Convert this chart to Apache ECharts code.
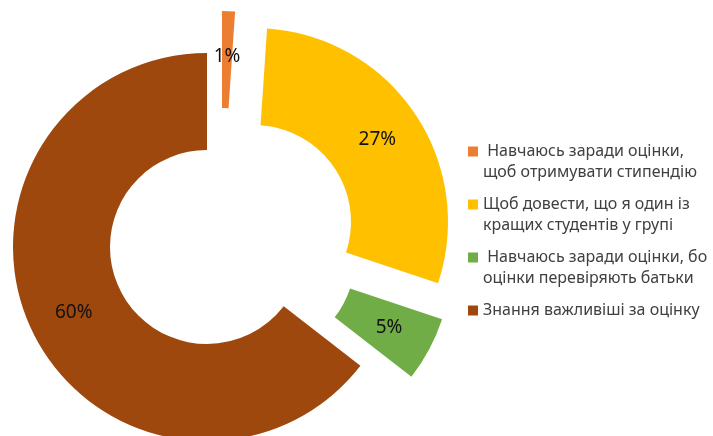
<!DOCTYPE html>
<html>
<head>
<meta charset="utf-8">
<script src="https://cdn.jsdelivr.net/npm/echarts@6/dist/echarts.min.js"></script>
<style>
  html, body { margin: 0; padding: 0; background: #fff; }
  #chart { width: 713px; height: 436px; }
</style>
</head>
<body>
<div id="chart"></div>
<script>
// Motivation for studying: answer shares (%)
const categories = [
  ' Навчаюсь заради оцінки,\nщоб отримувати стипендію',
  'Щоб довести, що я один із\nкращих студентів у групі',
  ' Навчаюсь заради оцінки, бо\nоцінки перевіряють батьки',
  'Знання важливіші за оцінку'
];
const values = [1, 27, 5, 60];
const colors = ['#ED7D31', '#FFC000', '#70AD47', '#9E480E'];

const FONT = '"Noto Sans", "Open Sans", sans-serif';
const LINE = 21;
const RADIUS = [97, 194];
// ring centre for each slice layer (the first three slices are pulled out)
const layerCenters = [[222, 205], [254, 222], [258, 258], [207, 247]];

const chart = echarts.init(document.getElementById('chart'), null, { renderer: 'canvas' });

// Each slice gets its own ring layer so it can be pulled out on its own;
// every layer lays out the full data set, showing only its own slice.
const series = categories.map((_, k) => ({
  type: 'pie',
  name: 'slice' + k,
  center: layerCenters[k],
  radius: RADIUS,
  startAngle: 90,
  clockwise: true,
  avoidLabelOverlap: false,
  silent: true,
  labelLine: { show: false },
  emphasis: { disabled: true },
  itemStyle: { borderWidth: 0 },
  data: categories.map((name, i) => ({
    name: name,
    value: values[i],
    itemStyle: { color: i === k ? colors[i] : 'rgba(0,0,0,0)' },
    label: {
      show: i === k,
      position: 'inside',
      formatter: '{c}%',
      fontFamily: FONT,
      fontSize: 19,
      color: '#111111'
    }
  }))
}));

chart.setOption({
  animation: false,
  legend: {
    orient: 'vertical',
    left: 468,
    top: 120,
    padding: 0,
    itemWidth: 10,
    itemHeight: 10,
    itemGap: -10,
    icon: 'rect',
    selectedMode: false,
    data: categories.map((name, i) => ({ name: name, itemStyle: { color: colors[i] } })),
    // swatch sits level with the first text line
    formatter: (name) => (name.indexOf('\n') >= 0 ? '\n' + name : '\n' + name + '\n'),
    textStyle: {
      fontFamily: FONT,
      fontSize: 16,
      lineHeight: LINE,
      color: '#404040'
    }
  },
  series: series
});
</script>
</body>
</html>
